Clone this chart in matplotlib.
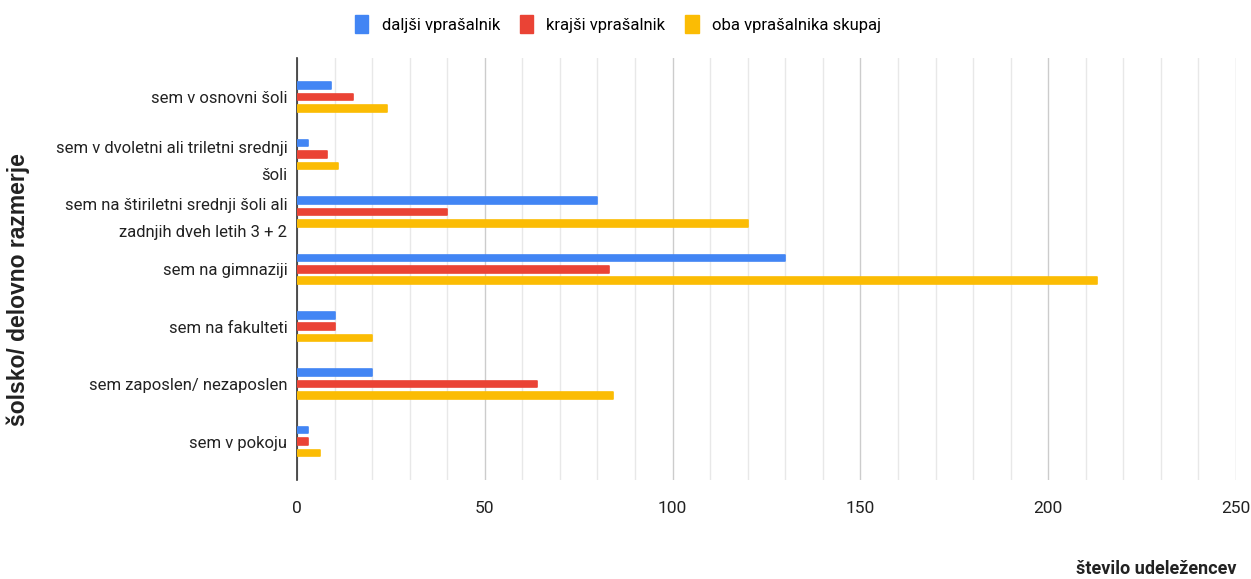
import numpy as np
import matplotlib
matplotlib.use("Agg")
import matplotlib.pyplot as plt
from matplotlib.patches import Patch

plt.rcParams['font.family'] = ['Roboto', 'DejaVu Sans']

# data
categories = [
    "sem v osnovni šoli",
    "sem v dvoletni ali triletni srednji\nšoli",
    "sem na štiriletni srednji šoli ali\nzadnjih dveh letih 3 + 2",
    "sem na gimnaziji",
    "sem na fakulteti",
    "sem zaposlen/ nezaposlen",
    "sem v pokoju",
]
daljsi = [9, 3, 80, 130, 10, 20, 3]
krajsi = [15, 8, 40, 83, 10, 64, 3]
oba = [24, 11, 120, 213, 20, 84, 6]
series_names = ["daljši vprašalnik", "krajši vprašalnik", "oba vprašalnika skupaj"]
colors = ["#4285F4", "#EA4335", "#FBBC04"]
x_ticks = [0, 50, 100, 150, 200, 250]

fig = plt.figure(figsize=(12.51, 5.79), dpi=100)
ax = fig.add_axes([297 / 1251, 1 - 480 / 579, (1236 - 297) / 1251, (480 - 58) / 579])

y = np.arange(len(categories))
offsets = [-0.2, 0.0, 0.2]
for vals, off, col in zip([daljsi, krajsi, oba], offsets, colors):
    ax.barh(y + off, vals, height=0.115, color=col, edgecolor=col,
            linewidth=1.2, joinstyle='round', zorder=3)

ax.set_xlim(0, 250)
ax.set_ylim(len(categories) - 0.33, -0.68)

ax.set_xticks(x_ticks)
ax.set_xticks(np.arange(0, 251, 10), minor=True)
ax.grid(axis='x', which='minor', color='#e8e8e8', linewidth=1, zorder=0)
ax.grid(axis='x', which='major', color='#cccccc', linewidth=1, zorder=0)
ax.tick_params(axis='x', which='both', length=0, pad=15, labelsize=12.5, labelcolor='#222222')

ax.set_yticks(y)
ax.set_yticklabels(categories, fontsize=12, color='#222222', linespacing=2.0)
ax.tick_params(axis='y', length=0, pad=7)

for s in ['top', 'right', 'bottom']:
    ax.spines[s].set_visible(False)
ax.spines['left'].set_color('#333333')
ax.spines['left'].set_linewidth(1.2)

fig.text(18 / 1251, 1 - 290 / 579, "šolsko/ delovno razmerje", rotation=90,
         ha='center', va='center', fontsize=16.5, fontweight='bold', color='#222222',
         family=['Liberation Sans', 'DejaVu Sans'])
fig.text(1236 / 1251, 1 - 569 / 579, "število udeležencev", ha='right', va='center',
         fontsize=13, fontweight='bold', color='#222222')

handles = [Patch(facecolor=c, edgecolor=c, label=n) for c, n in zip(colors, series_names)]
fig.legend(handles=handles, loc='center', bbox_to_anchor=(618 / 1251, 1 - 24 / 579),
           ncol=3, frameon=False, fontsize=12, handlelength=0.8, handleheight=1.2,
           handletextpad=0.8, columnspacing=1.2)

fig.savefig("out.png", dpi=100)
